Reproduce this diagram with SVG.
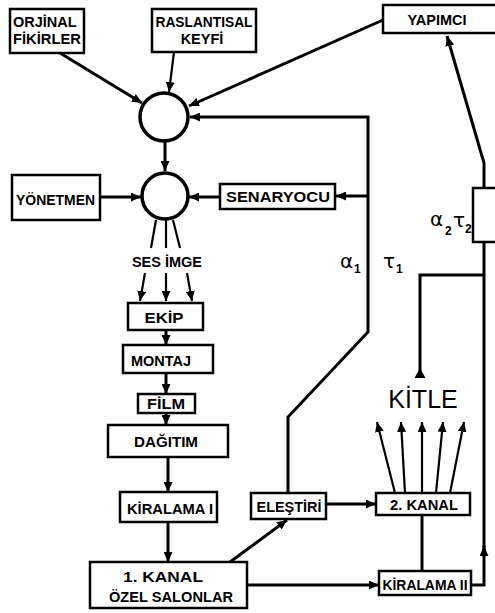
<svg xmlns="http://www.w3.org/2000/svg" width="495" height="613" viewBox="0 0 495 613">
<style>
.box{fill:#fff;stroke:#000;stroke-width:2.5}
.c{fill:none;stroke:#000;stroke-width:3.5}
.ln{fill:none;stroke:#000;stroke-width:3}
.ln2{fill:none;stroke:#000;stroke-width:2.2}
.t{font-family:"Liberation Sans",Arial,sans-serif;font-weight:bold;font-size:14.5px;fill:#000}
.m{text-anchor:middle}
.g{font-family:"DejaVu Sans",sans-serif;font-size:20px;fill:#000}
.s{font-family:"Liberation Sans",Arial,sans-serif;font-weight:bold;font-size:12px;fill:#000}
</style>
<defs>
<marker id="ah" markerUnits="userSpaceOnUse" markerWidth="10" markerHeight="9" refX="10" refY="4.5" orient="auto">
<path d="M0,0 L10,4.5 L0,9 z" fill="#000"/>
</marker>
</defs>
<rect width="495" height="613" fill="#fff"/>
<g id="connectors">
<line class="ln" x1="60" y1="53" x2="142" y2="103" marker-end="url(#ah)"/>
<line class="ln2" x1="174" y1="52" x2="169" y2="92" marker-end="url(#ah)"/>
<line class="ln" x1="383" y1="20" x2="189" y2="106" marker-end="url(#ah)"/>
<path class="ln" d="M288,493 V417 L368,332 V117 H190" marker-end="url(#ah)"/>
<line class="ln" x1="368" y1="196" x2="336" y2="196" marker-end="url(#ah)"/>
<line class="ln" x1="165" y1="142" x2="165" y2="171" marker-end="url(#ah)"/>
<line class="ln" x1="100" y1="197" x2="141" y2="197" marker-end="url(#ah)"/>
<line class="ln" x1="220" y1="197" x2="189" y2="197" marker-end="url(#ah)"/>
<line class="ln2" x1="156" y1="220" x2="151" y2="248"/>
<line class="ln2" x1="166" y1="220" x2="166" y2="248"/>
<line class="ln2" x1="173" y1="220" x2="180" y2="248"/>
<line class="ln2" x1="145" y1="273" x2="140" y2="301" marker-end="url(#ah)"/>
<line class="ln2" x1="166" y1="273" x2="166" y2="301" marker-end="url(#ah)"/>
<line class="ln2" x1="187" y1="273" x2="192" y2="301" marker-end="url(#ah)"/>
<line class="ln" x1="166" y1="330" x2="166" y2="345" marker-end="url(#ah)"/>
<line class="ln" x1="166" y1="373" x2="166" y2="394" marker-end="url(#ah)"/>
<line class="ln" x1="166" y1="413" x2="166" y2="425" marker-end="url(#ah)"/>
<line class="ln" x1="168" y1="457" x2="168" y2="492" marker-end="url(#ah)"/>
<line class="ln" x1="168" y1="522" x2="168" y2="562" marker-end="url(#ah)"/>
<line class="ln" x1="230" y1="562" x2="287" y2="520" marker-end="url(#ah)"/>
<line class="ln" x1="326" y1="504" x2="376" y2="504" marker-end="url(#ah)"/>
<line class="ln" x1="247" y1="585" x2="379" y2="585" marker-end="url(#ah)"/>
<line class="ln" x1="422" y1="515" x2="422" y2="571"/>
<line class="ln2" x1="395" y1="493" x2="377" y2="422" marker-end="url(#ah)"/>
<line class="ln2" x1="405" y1="493" x2="401" y2="422" marker-end="url(#ah)"/>
<line class="ln2" x1="422" y1="493" x2="422" y2="422" marker-end="url(#ah)"/>
<line class="ln2" x1="436" y1="493" x2="443" y2="422" marker-end="url(#ah)"/>
<line class="ln2" x1="450" y1="493" x2="464" y2="422" marker-end="url(#ah)"/>
<path class="ln" d="M471,585 H484 V546" marker-end="url(#ah)"/>
<line class="ln" x1="484" y1="550" x2="484" y2="243"/>
<path class="ln" d="M484,188 V163 L447,36" marker-end="url(#ah)"/>
<path class="ln" d="M420,376 V275 H484"/>
<polygon points="420,368 414.5,378 425.5,378" fill="#000"/>
</g>
<g id="circle1"><circle class="c" cx="164" cy="117" r="24" fill="#fff"/></g>
<g id="circle2"><circle class="c" cx="165" cy="196" r="23" fill="#fff"/></g>
<g id="orjinal"><rect class="box" x="10" y="9" width="74" height="44"/><text class="t" x="13" y="27">ORJİNAL</text><text class="t" x="13" y="44" textLength="68" lengthAdjust="spacingAndGlyphs">FİKİRLER</text></g>
<g id="raslantisal"><rect class="box" x="152" y="9" width="104" height="43"/><text class="t m" x="204" y="27" textLength="97" lengthAdjust="spacingAndGlyphs">RASLANTISAL</text><text class="t m" x="202" y="44">KEYFİ</text></g>
<g id="yapimci"><rect class="box" x="383" y="5" width="120" height="28"/><text class="t m" x="437" y="25">YAPIMCI</text></g>
<g id="yonetmen"><rect class="box" x="12" y="175" width="88" height="45"/><text class="t" x="16" y="205" textLength="79" lengthAdjust="spacingAndGlyphs">YÖNETMEN</text></g>
<g id="senaryocu"><rect class="box" x="220" y="184" width="115" height="25"/><text class="t m" x="278" y="202" textLength="104" lengthAdjust="spacingAndGlyphs">SENARYOCU</text></g>
<g id="sesimge"><text class="t m" x="167" y="267">SES İMGE</text></g>
<g id="ekip"><rect class="box" x="128" y="303" width="75" height="27"/><text class="t m" x="164" y="323" textLength="39" lengthAdjust="spacingAndGlyphs">EKİP</text></g>
<g id="montaj"><rect class="box" x="123" y="345" width="90" height="28"/><text class="t m" x="161" y="366">MONTAJ</text></g>
<g id="film"><rect class="box" x="138" y="394" width="57" height="19"/><text class="t m" x="166" y="409" textLength="38" lengthAdjust="spacingAndGlyphs">FİLM</text></g>
<g id="dagitim"><rect class="box" x="108" y="425" width="120" height="32"/><text class="t m" x="166" y="447" textLength="64" lengthAdjust="spacingAndGlyphs">DAĞITIM</text></g>
<g id="kiralama1"><rect class="box" x="120" y="492" width="97" height="30"/><text class="t m" x="170" y="514" textLength="86" lengthAdjust="spacingAndGlyphs">KİRALAMA I</text></g>
<g id="kanal1"><rect class="box" x="90" y="562" width="157" height="46"/><text class="t m" x="163" y="582" textLength="80" lengthAdjust="spacingAndGlyphs">1. KANAL</text><text class="t m" x="171" y="602" textLength="124" lengthAdjust="spacingAndGlyphs">ÖZEL SALONLAR</text></g>
<g id="elestiri"><rect class="box" x="251" y="493" width="75" height="26"/><text class="t m" x="289" y="512" textLength="65" lengthAdjust="spacingAndGlyphs">ELEŞTİRİ</text></g>
<g id="kanal2"><rect class="box" x="376" y="493" width="94" height="22"/><text class="t m" x="424" y="510" textLength="68" lengthAdjust="spacingAndGlyphs">2. KANAL</text></g>
<g id="kiralama2"><rect class="box" x="379" y="571" width="92" height="24"/><text class="t m" x="425" y="590" textLength="85" lengthAdjust="spacingAndGlyphs">KİRALAMA II</text></g>
<g id="kitle"><text x="423" y="408" text-anchor="middle" font-family="Liberation Sans,Arial,sans-serif" font-size="25" fill="#000">KİTLE</text></g>
<g id="alpha2box"><rect class="box" x="473" y="188" width="30" height="54"/><text class="g" x="430" y="226">α</text><text class="s" x="445" y="235">2</text><text class="g" x="453" y="227">τ</text><text class="s" x="465" y="233">2</text></g>
<g id="labels1"><text class="g" x="340" y="268">α</text><text class="s" x="354" y="273">1</text><text class="g" x="383" y="268">τ</text><text class="s" x="396" y="273">1</text></g>
</svg>
